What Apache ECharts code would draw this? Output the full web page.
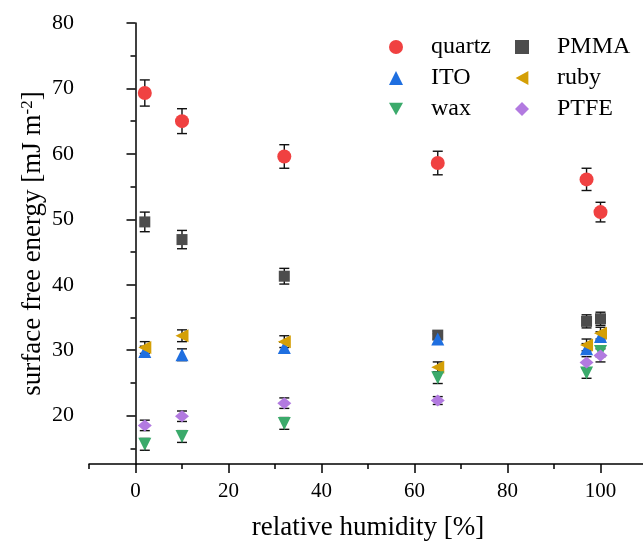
<!DOCTYPE html>
<html>
<head>
<meta charset="utf-8">
<script src="https://cdn.jsdelivr.net/npm/echarts@6/dist/echarts.min.js"></script>
<style>
  html, body { margin: 0; padding: 0; background: #fff; }
  #main { width: 643px; height: 543px; }
</style>
</head>
<body>
<div id="main"></div>
<script>
// relative humidity [%]
const humidity = [2, 10, 32, 65, 97, 100];

// surface free energy values and error
const quartz = [69.3, 65.0, 59.6, 58.6, 56.1, 51.1];
const quartzErr = [2.0, 1.9, 1.8, 1.8, 1.7, 1.5];
const pmma = [49.6, 46.9, 41.3, 32.3, 34.4, 34.8];
const pmmaErr = [1.5, 1.4, 1.2, 0.6, 1.0, 1.0];
const ito = [29.8, 29.3, 30.4, 31.7, 30.2, 32.1];
const itoErr = [0.8, 0.9, 0.8, 0.8, 0.8, 0.7];
const ruby = [30.4, 32.2, 31.3, 27.4, 30.8, 32.6];
const rubyErr = [0.9, 0.9, 0.9, 0.8, 0.9, 0.9];
const wax = [15.6, 16.8, 18.8, 25.8, 26.5, 29.8];
const waxErr = [0.9, 0.9, 0.9, 0.9, 0.8, 0.8];
const ptfe = [18.5, 19.9, 21.9, 22.3, 28.1, 29.2];
const ptfeErr = [0.8, 0.8, 0.8, 0.6, 0.9, 1.0];

// tick labels
const xMajor = [0, 20, 40, 60, 80, 100];
const xMinor = [-10, 10, 30, 50, 70, 90];
const yMajor = [20, 30, 40, 50, 60, 70, 80];
const yMinor = [15, 25, 35, 45, 55, 65, 75];

const FONT = '"Liberation Serif", "DejaVu Serif", serif';

// legend icons for the rotated triangles
const LEFT_TRI = 'path://M10,0 L0,5.5 L10,11 Z';
const DOWN_TRI = 'path://M0,0 L11,0 L5.5,10 Z';

const chart = echarts.init(document.getElementById('main'));

function pts(vals) {
  return humidity.map((h, i) => [h, vals[i]]);
}
function bars(vals, errs) {
  return humidity.map((h, i) => [h, vals[i] - errs[i], vals[i] + errs[i]]);
}

function errSeries(vals, errs) {
  return {
    type: 'custom',
    xAxisIndex: 0,
    yAxisIndex: 0,
    z: 3,
    silent: true,
    encode: { x: 0, y: [1, 2] },
    data: bars(vals, errs),
    renderItem: function (params, api) {
      const x = api.value(0);
      const lo = api.coord([x, api.value(1)]);
      const hi = api.coord([x, api.value(2)]);
      const w = 5;
      const st = { stroke: '#111', lineWidth: 1.4 };
      return {
        type: 'group',
        children: [
          { type: 'line', shape: { x1: lo[0], y1: lo[1], x2: hi[0], y2: hi[1] }, style: st },
          { type: 'line', shape: { x1: lo[0] - w, y1: lo[1], x2: lo[0] + w, y2: lo[1] }, style: st },
          { type: 'line', shape: { x1: hi[0] - w, y1: hi[1], x2: hi[0] + w, y2: hi[1] }, style: st }
        ]
      };
    }
  };
}

function dots(name, vals, symbol, size, color, rot) {
  return {
    name: name,
    type: 'scatter',
    xAxisIndex: 0,
    yAxisIndex: 0,
    z: 4,
    symbol: symbol,
    symbolSize: size,
    symbolRotate: rot || 0,
    itemStyle: { color: color, opacity: 1 },
    data: pts(vals)
  };
}

const legendBase = {
  orient: 'vertical',
  top: 30,
  itemWidth: 14,
  itemHeight: 14,
  itemGap: 7,
  selectedMode: false,
  textStyle: { fontFamily: FONT, fontSize: 24, color: '#000', padding: [0, 0, 0, 23] }
};

const option = {
  animation: false,
  backgroundColor: '#fff',
  grid: { left: 89, top: 23, width: 558, height: 441, outerBoundsMode: 'none' },
  legend: [
    Object.assign({}, legendBase, {
      left: 384,
      data: ['quartz', 'ITO', { name: 'wax', icon: DOWN_TRI }]
    }),
    Object.assign({}, legendBase, {
      left: 510,
      data: ['PMMA', { name: 'ruby', icon: LEFT_TRI }, 'PTFE']
    })
  ],
  xAxis: [
    {
      type: 'value',
      min: -10,
      max: 110,
      splitLine: { show: false },
      axisLine: { lineStyle: { color: '#000', width: 1.5 } },
      axisTick: { customValues: xMajor, length: 9, lineStyle: { color: '#000', width: 1.5 } },
      axisLabel: { customValues: xMajor, margin: 17, fontFamily: FONT, fontSize: 21, color: '#000' },
      name: 'relative humidity [%]',
      nameLocation: 'middle',
      nameGap: 50,
      nameMoveOverlap: false,
      nameTextStyle: { fontFamily: FONT, fontSize: 27, color: '#000' }
    },
    {
      type: 'value',
      min: -10,
      max: 110,
      position: 'bottom',
      splitLine: { show: false },
      axisLine: { show: false },
      axisTick: { customValues: xMinor, length: 5, lineStyle: { color: '#000', width: 1.5 } },
      axisLabel: { show: false }
    }
  ],
  yAxis: [
    {
      type: 'value',
      min: 12.6,
      max: 80,
      splitLine: { show: false },
      axisLine: { lineStyle: { color: '#000', width: 1.5 } },
      axisTick: { customValues: yMajor, length: 9, lineStyle: { color: '#000', width: 1.5 } },
      axisLabel: { customValues: yMajor, margin: 15, fontFamily: FONT, fontSize: 22, color: '#000' },
      name: 'surface free energy [mJ m{sup|-2}]',
      nameLocation: 'middle',
      nameGap: 42,
      nameMoveOverlap: false,
      nameTextStyle: {
        fontFamily: FONT, fontSize: 27, color: '#000',
        rich: { sup: { fontFamily: FONT, fontSize: 17, color: '#000', verticalAlign: 'top', padding: [0, 0, 11, 0] } }
      }
    },
    {
      type: 'value',
      min: 12.6,
      max: 80,
      position: 'left',
      splitLine: { show: false },
      axisLine: { show: false },
      axisTick: { customValues: yMinor, length: 5, lineStyle: { color: '#000', width: 1.5 } },
      axisLabel: { show: false }
    }
  ],
  series: [
    errSeries(quartz, quartzErr),
    errSeries(pmma, pmmaErr),
    errSeries(ito, itoErr),
    errSeries(ruby, rubyErr),
    errSeries(wax, waxErr),
    errSeries(ptfe, ptfeErr),
    dots('quartz', quartz, 'circle', 14, '#F04141'),
    dots('PMMA', pmma, 'rect', 11, '#4D4D4D'),
    dots('ITO', ito, 'triangle', 13, '#1F6FE0'),
    dots('ruby', ruby, 'triangle', 13, '#D49F06', 90),
    dots('wax', wax, 'triangle', 13, '#3BAA6B', 180),
    dots('PTFE', ptfe, 'diamond', [14, 12], '#B27AE0')
  ]
};

chart.setOption(option);
</script>
</body>
</html>
